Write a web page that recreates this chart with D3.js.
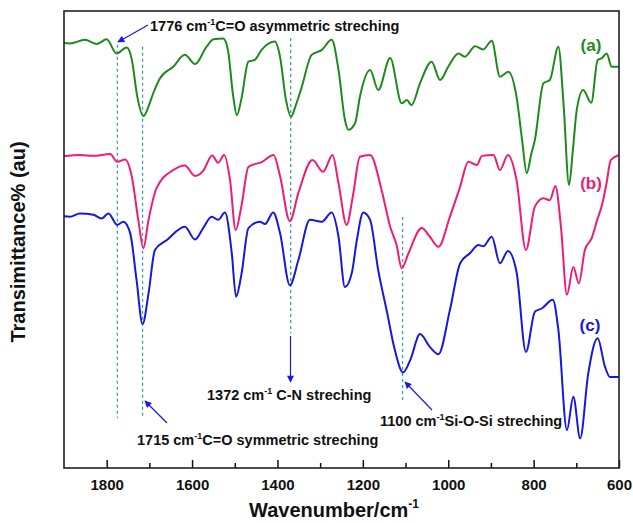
<!DOCTYPE html>
<meta charset="utf-8">
<script src="https://d3js.org/d3.v7.min.js"></script>
<style>
  body { margin: 0; background: #fff; }
  text { font-family: "Liberation Sans", Arial, sans-serif; }
</style>
<div id="my_dataviz"></div>
<script>

// wavenumbers (cm-1) and transmittance (au)
var waveA = [1900,1886,1851,1823,1800,1777,1753,1741,1729,1714,1699,1691,1675,1644,1617,1593,1566,1550,1527,1516,1504,1495,1485,1468,1453,1437,1406,1394,1380,1368,1357,1343,1320,1296,1273,1257,1242,1234,1218,1207,1183,1164,1136,1109,1097,1086,1066,1039,1019,1000,976,961,937,918,898,879,859,840,827,816,806,797,777,762,742,730,717,708,699,684,665,650,640,629,617,600]
var transA = [93.0,92.9,93.7,92.8,93.8,90.7,92.0,89.3,81.6,77.0,79.9,82.0,85.3,87.8,90.4,88.4,92.2,93.8,94.0,91.5,81.6,77.2,80.5,88.9,89.3,91.5,93.3,90.0,80.5,76.9,79.4,83.4,90.4,91.5,93.7,87.1,76.2,74.0,75.5,81.2,87.1,82.7,89.7,79.8,80.5,79.4,84.2,88.9,84.9,87.8,90.7,90.0,92.3,91.6,93.5,85.6,86.7,81.2,71.8,64.5,68.5,71.8,84.2,84.9,92.2,79.8,61.9,69.6,78.3,82.7,79.9,89.3,89.7,90.7,87.8,87.8]

var waveB = [1900,1863,1831,1792,1775,1757,1741,1726,1714,1702,1683,1644,1617,1593,1574,1553,1539,1525,1511,1498,1484,1468,1436,1409,1394,1371,1351,1318,1293,1271,1257,1238,1223,1207,1183,1156,1136,1121,1109,1093,1062,1043,1023,996,972,953,933,921,894,879,860,840,818,797,777,762,749,736,722,707,694,680,664,651,640,630,619,600]
var transB = [68.2,68.5,68.3,68.7,67.0,67.5,63.7,54.3,48.1,54.3,61.3,65.2,66.2,63.9,65.0,68.4,66.8,68.5,63.0,52.1,57.5,65.9,67.0,68.5,63.9,54.0,60.2,67.4,64.8,68.5,62.3,53.2,59.7,68.1,68.5,60.8,52.8,48.8,43.7,47.0,52.5,50.6,48.4,55.0,61.6,67.0,66.3,68.3,68.5,65.2,68.5,63.0,47.7,57.2,59.0,58.6,61.7,52.8,37.9,44.0,40.4,47.7,50.3,54.3,57.5,61.9,67.4,68.5]

var waveC = [1900,1886,1863,1831,1812,1796,1775,1761,1745,1730,1716,1702,1687,1659,1617,1593,1574,1554,1539,1523,1507,1497,1484,1468,1441,1429,1410,1394,1371,1351,1324,1296,1273,1257,1242,1226,1214,1199,1183,1164,1144,1125,1106,1089,1066,1043,1023,996,972,949,929,918,898,879,860,840,818,797,781,755,742,722,707,691,672,650,633,621,600]
var transC = [55.1,55.0,55.7,55.4,54.6,55.7,53.2,53.9,51.4,41.1,31.5,38.2,47.7,49.9,52.8,50.0,52.5,55.0,54.3,55.9,47.0,37.5,42.6,52.5,53.9,53.4,55.9,51.4,40.0,45.5,54.3,53.9,55.9,50.6,39.6,42.6,49.9,55.9,54.3,43.3,34.4,25.8,20.9,23.6,29.3,26.5,24.9,34.6,44.8,47.0,48.8,48.5,50.6,44.8,47.5,42.9,25.4,34.2,34.9,36.8,30.2,8.3,15.6,6.5,20.7,28.4,22.2,19.9,19.9]

var xTicks = [1800, 1600, 1400, 1200, 1000, 800, 600]
var xMinorTicks = [1700, 1500, 1300, 1100, 900, 700]

// marked bands: where the dashed line sits and how far it runs
var bandWave = [1775, 1716, 1369, 1107]
var bandTop = [92.6, 92.2, 94.1, 54.9]
var bandBottom = [10.9, 10.9, 29.5, 14.9]

var width = 633, height = 523
var margin = {top: 11, right: 14, bottom: 55, left: 64}

var svg = d3.select("#my_dataviz")
  .append("svg")
    .attr("width", width)
    .attr("height", height)

var x = d3.scaleLinear()
  .domain([1900, 600])
  .range([margin.left, width - margin.right])

var y = d3.scaleLinear()
  .domain([0, 100])
  .range([height - margin.bottom, margin.top])

// dashed marker lines
svg.selectAll("bandLines")
  .data(bandWave)
  .enter()
  .append("line")
    .attr("x1", function(d){ return x(d) })
    .attr("x2", function(d){ return x(d) })
    .attr("y1", function(d, i){ return y(bandTop[i]) })
    .attr("y2", function(d, i){ return y(bandBottom[i]) })
    .attr("stroke", "#3a9fae")
    .attr("stroke-width", 1.3)
    .attr("stroke-dasharray", "3,3")

// spectra
var series = [
  {name: "a", wave: waveA, trans: transA, color: "#1e8a1e"},
  {name: "b", wave: waveB, trans: transB, color: "#ee1c79"},
  {name: "c", wave: waveC, trans: transC, color: "#1717e0"}
]

var line = d3.line()
  .x(function(d){ return x(d[0]) })
  .y(function(d){ return y(d[1]) })
  .curve(d3.curveMonotoneX)

svg.selectAll("spectra")
  .data(series)
  .enter()
  .append("path")
    .attr("d", function(s){ return line(s.wave.map(function(w, i){ return [w, s.trans[i]] })) })
    .attr("fill", "none")
    .attr("stroke", function(s){ return s.color })
    .attr("stroke-width", 2)

// series labels
var labelPos = [[591, 51], [591, 189], [590, 331]]
svg.selectAll("seriesLabels")
  .data(series)
  .enter()
  .append("text")
    .attr("x", function(d, i){ return labelPos[i][0] })
    .attr("y", function(d, i){ return labelPos[i][1] })
    .attr("text-anchor", "middle")
    .attr("font-size", 17)
    .attr("font-weight", "bold")
    .attr("fill", function(d){ return d.color })
    .text(function(d){ return "(" + d.name + ")" })

// arrows
var defs = svg.append("defs")
defs.append("marker")
    .attr("id", "head")
    .attr("viewBox", "0 0 10 10")
    .attr("refX", 9)
    .attr("refY", 5)
    .attr("markerWidth", 9)
    .attr("markerHeight", 7)
    .attr("markerUnits", "userSpaceOnUse")
    .attr("orient", "auto")
  .append("path")
    .attr("d", "M0,0 L10,5 L0,10 Z")
    .attr("fill", "#1a1ae6")

var arrows = [
  [148, 25, 118, 42],
  [167, 423, 145, 401],
  [290.5, 336, 290.5, 382],
  [432, 410, 405, 382]
]
svg.selectAll("arrows")
  .data(arrows)
  .enter()
  .append("line")
    .attr("x1", function(d){ return d[0] })
    .attr("y1", function(d){ return d[1] })
    .attr("x2", function(d){ return d[2] })
    .attr("y2", function(d){ return d[3] })
    .attr("stroke", "#1a1ae6")
    .attr("stroke-width", 1.2)
    .attr("marker-end", "url(#head)")

// annotation texts
var notes = [
  {x: 150, y: 31, num: "1776 cm", rest: "C=O asymmetric streching"},
  {x: 207, y: 400, num: "1372 cm", rest: " C-N streching"},
  {x: 137, y: 445, num: "1715 cm", rest: "C=O symmetric streching"},
  {x: 380, y: 426, num: "1100 cm", rest: "Si-O-Si streching"}
]
notes.forEach(function(n){
  var t = svg.append("text")
    .attr("x", n.x)
    .attr("y", n.y)
    .attr("font-size", 14.5)
    .attr("font-weight", "bold")
    .attr("fill", "#111")
  t.append("tspan").text(n.num)
  t.append("tspan").attr("font-size", 9).attr("dy", -6).text("-1")
  t.append("tspan").attr("dy", 6).text(n.rest)
})

// axes
var plotBottom = height - margin.bottom
svg.append("g")
  .attr("transform", "translate(0," + plotBottom + ")")
  .call(d3.axisBottom(x).tickValues(xTicks).tickSize(-8).tickPadding(11).tickFormat(d3.format("d")))
  .call(function(g){
    g.select(".domain").remove()
    g.selectAll("line").attr("stroke", "#111").attr("stroke-width", 1.5)
    g.selectAll("text")
      .attr("font-size", 15)
      .attr("font-weight", "bold")
      .attr("font-family", "Liberation Sans, Arial, sans-serif")
      .attr("fill", "#111")
  })

svg.append("g")
  .attr("transform", "translate(0," + plotBottom + ")")
  .call(d3.axisBottom(x).tickValues(xMinorTicks).tickSize(-5).tickFormat(""))
  .call(function(g){
    g.select(".domain").remove()
    g.selectAll("line").attr("stroke", "#111").attr("stroke-width", 1.5)
  })

// frame
svg.append("rect")
  .attr("x", margin.left)
  .attr("y", margin.top)
  .attr("width", width - margin.left - margin.right)
  .attr("height", height - margin.top - margin.bottom)
  .attr("fill", "none")
  .attr("stroke", "#222")
  .attr("stroke-width", 1.6)

// axis titles
var xt = svg.append("text")
  .attr("x", 334)
  .attr("y", 517)
  .attr("text-anchor", "middle")
  .attr("font-size", 20)
  .attr("font-weight", "bold")
  .attr("fill", "#111")
xt.append("tspan").text("Wavenumber/cm")
xt.append("tspan").attr("font-size", 12).attr("dy", -9).text("-1")

svg.append("text")
  .attr("transform", "translate(25,242) rotate(-90)")
  .attr("text-anchor", "middle")
  .attr("font-size", 20)
  .attr("font-weight", "bold")
  .attr("fill", "#111")
  .text("Transimittance% (au)")

</script>
